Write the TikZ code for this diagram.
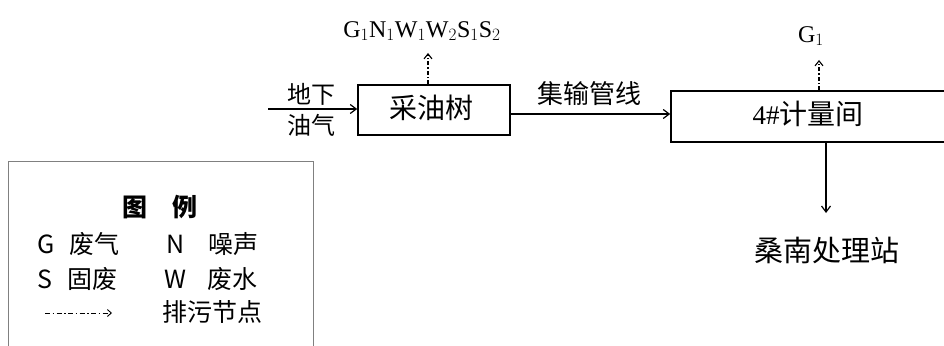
\documentclass[tikz,border=0pt]{standalone}
\usepackage{fontspec}
\setmainfont{Liberation Serif}
\newfontfamily\cjk{Noto Sans CJK SC}
\usepackage{tikz}
\usetikzlibrary{arrows.meta}
\usetikzlibrary{calc}

\tikzset{
  unitbox/.style={draw, line width=1.6pt, inner sep=0pt},
  flow/.style={line width=1.2pt, -{Straight Barb[length=6pt,width=9pt]}},
  vent/.style={line width=1.1pt, dash pattern=on 4pt off 2pt on 1.5pt off 2pt, -{Straight Barb[length=5pt,width=8pt]}},
  word/.style={font=\cjk\fontsize{25}{28}\selectfont, inner sep=0pt},
}

\begin{document}
\begin{tikzpicture}[x=1pt,y=-1pt]
    \useasboundingbox (0,0) rectangle (944,345);

		% boxes
		\node [unitbox, minimum width=152pt, minimum height=50pt] (tree) at (434,110) {};
		\node [word, font=\cjk\fontsize{28}{30}\selectfont] at (431,108) {采油树};
		\node [unitbox, minimum width=280pt, minimum height=51pt] (room) at (811,116.5) {};
		\node [word, font=\cjk\fontsize{28}{30}\selectfont] at (808,114) {\fontspec{Liberation Serif}\fontsize{27}{30}\selectfont 4\#\cjk\fontsize{28}{30}\selectfont 计量间};

		% flows
		\coordinate (in) at (268,109);
		\draw [flow] (in) -- (tree.west |- in);
		\node [word, font=\cjk\fontsize{24}{26}\selectfont] (dixia) at (311,94) {地下};
		\node [word, font=\cjk\fontsize{24}{26}\selectfont] (youqi) at (311,125) {油气};

		\coordinate (lineA) at (tree.east |- 0,114);
		\draw [flow] (lineA) -- (room.west |- lineA);
		\node [word, font=\cjk\fontsize{26}{28}\selectfont] (pipe) at (589,94) {集输管线};

		\coordinate (down) at (826,213);
		\draw [flow] (room.south -| down) -- (down);
		\node [word, font=\cjk\fontsize{29}{32}\selectfont] (station) at (827,250) {桑南处理站};

		% emissions
		\coordinate (up1) at (428,53);
		\draw [vent] (tree.north -| up1) -- (up1);
		\node [inner sep=0pt, font=\fontsize{24}{26}\selectfont] (emit1) at (422,31) {G$_1$N$_1$W$_1$W$_2$S$_1$S$_2$};

		\coordinate (up2) at (819,60);
		\draw [vent] (room.north -| up2) -- (up2);
		\node [inner sep=0pt, font=\fontsize{24}{26}\selectfont] (emit2) at (811,36) {G$_1$};

		% legend
		\draw [gray, line width=1pt] (8,350) -- (8,161) -- (313,161) -- (313,350);
		\node [word, font=\cjk\bfseries\fontsize{25}{28}\selectfont] (title) at (160,207) {图\hspace{25pt}例};
		\node [word, anchor=west] (lg) at (37,244) {G\hspace{15pt}废气};
		\node [word, anchor=west] (ln) at (166,244) {N\hspace{24pt}噪声};
		\node [word, anchor=west] (ls) at (37,279) {S\hspace{15pt}固废};
		\node [word, anchor=west] (lw) at (164,279) {W\hspace{21pt}废水};
		\coordinate (k1) at (45,313);
		\coordinate (k2) at (112,313);
		\draw [line width=0.9pt, dash pattern=on 5pt off 2.5pt on 1.5pt off 2.5pt, -{Straight Barb[length=4pt,width=7pt]}] (k1) -- (k2);
		\node [word, anchor=west] (lv) at (162,312) {排污节点};
\end{tikzpicture}
\end{document}
